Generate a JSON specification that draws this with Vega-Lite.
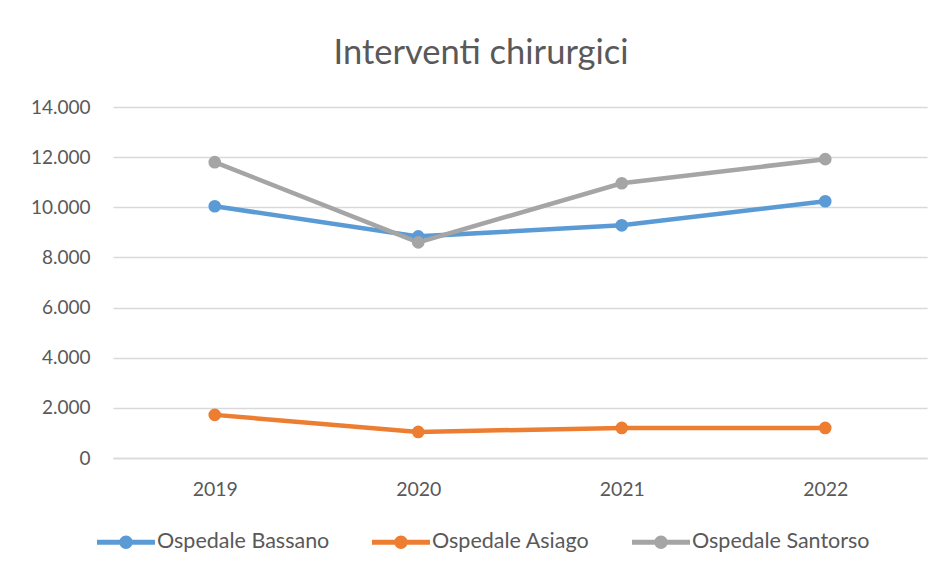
{
  "$schema": "https://vega.github.io/schema/vega-lite/v6.json",
  "width": 814,
  "height": 351,
  "autosize": {"type": "none"},
  "padding": {"left": 113, "top": 107, "right": 17, "bottom": 116},
  "background": "white",
  "config": {
    "locale": {"number": {"decimal": ",", "thousands": ".", "grouping": [3], "currency": ["€", ""]}},
    "font": "Lato",
    "view": {"stroke": null}
  },
  "title": {
    "text": "Interventi chirurgici",
    "font": "Lato",
    "fontSize": 34.5,
    "fontWeight": "normal",
    "color": "#595959",
    "anchor": "middle",
    "frame": "group",
    "dx": -39,
    "baseline": "alphabetic",
    "offset": 0
  },
  "data": {
    "values": [
      {"anno": "2019", "ospedale": "Ospedale Bassano", "interventi": 10040},
      {"anno": "2020", "ospedale": "Ospedale Bassano", "interventi": 8840},
      {"anno": "2021", "ospedale": "Ospedale Bassano", "interventi": 9280},
      {"anno": "2022", "ospedale": "Ospedale Bassano", "interventi": 10240},
      {"anno": "2019", "ospedale": "Ospedale Asiago", "interventi": 1720},
      {"anno": "2020", "ospedale": "Ospedale Asiago", "interventi": 1040},
      {"anno": "2021", "ospedale": "Ospedale Asiago", "interventi": 1200},
      {"anno": "2022", "ospedale": "Ospedale Asiago", "interventi": 1200},
      {"anno": "2019", "ospedale": "Ospedale Santorso", "interventi": 11800},
      {"anno": "2020", "ospedale": "Ospedale Santorso", "interventi": 8600},
      {"anno": "2021", "ospedale": "Ospedale Santorso", "interventi": 10960},
      {"anno": "2022", "ospedale": "Ospedale Santorso", "interventi": 11920}
    ]
  },
  "encoding": {
    "x": {
      "field": "anno",
      "type": "ordinal",
      "scale": {"type": "point", "padding": 0.5},
      "axis": {
        "title": null,
        "labelAngle": 0,
        "labelFont": "Lato",
        "labelFontSize": 19.5,
        "labelColor": "#595959",
        "labelPadding": 22,
        "ticks": false,
        "domainColor": "#D9D9D9",
        "domainWidth": 1.5,
        "grid": false
      }
    },
    "y": {
      "field": "interventi",
      "type": "quantitative",
      "scale": {"domain": [0, 14000], "nice": false},
      "axis": {
        "title": null,
        "values": [0, 2000, 4000, 6000, 8000, 10000, 12000, 14000],
        "format": ",d",
        "labelFont": "Lato",
        "labelFontSize": 19,
        "labelColor": "#595959",
        "labelPadding": 23,
        "ticks": false,
        "domain": false,
        "gridColor": "#D9D9D9",
        "gridWidth": 1.5
      }
    },
    "color": {
      "field": "ospedale",
      "type": "nominal",
      "scale": {
        "domain": ["Ospedale Bassano", "Ospedale Asiago", "Ospedale Santorso"],
        "range": ["#5B9BD5", "#ED7D31", "#A5A5A5"]
      },
      "legend": {
        "title": null,
        "orient": "none",
        "direction": "horizontal",
        "legendX": -16,
        "legendY": 406,
        "labelFont": "Lato",
        "labelFontSize": 21.5,
        "labelColor": "#595959",
        "labelOffset": 2,
        "labelLimit": 400,
        "columnPadding": 42,
        "symbolSize": 3364,
        "symbolType": "M-1,-0.085 L1,-0.085 L1,0.085 L-1,0.085 Z M0.23,0 A0.23,0.23 0 1,1 -0.23,0 A0.23,0.23 0 1,1 0.23,0 Z",
        "symbolStrokeWidth": 0,
        "encode": {
          "symbols": {"update": {"fill": {"scale": "color", "field": "value"}, "stroke": {"value": "transparent"}, "strokeWidth": {"value": 0}, "opacity": {"value": 1}}}
        }
      }
    }
  },
  "layer": [
    {"mark": {"type": "line", "strokeWidth": 4.5}},
    {"mark": {"type": "point", "filled": true, "size": 160, "opacity": 1}}
  ]
}
